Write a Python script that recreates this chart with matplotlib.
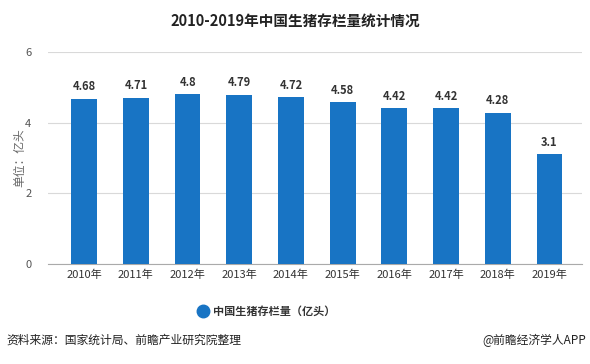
import matplotlib.pyplot as plt
from matplotlib.lines import Line2D

plt.rcParams['font.family'] = ['Noto Sans CJK SC', 'DejaVu Sans']

years = ['2010年', '2011年', '2012年', '2013年', '2014年', '2015年', '2016年', '2017年', '2018年', '2019年']
stock = [4.68, 4.71, 4.8, 4.79, 4.72, 4.58, 4.42, 4.42, 4.28, 3.1]
labels = ['4.68', '4.71', '4.8', '4.79', '4.72', '4.58', '4.42', '4.42', '4.28', '3.1']

BAR_COLOR = '#1874c4'

fig = plt.figure(figsize=(5.9, 3.64), dpi=100)
ax = fig.add_axes([48 / 590, 1 - 264 / 364, 534 / 590, 212 / 364])

x = range(len(years))
ax.bar(x, stock, width=0.5, color=BAR_COLOR, zorder=3)
for xi, v, t in zip(x, stock, labels):
    ax.text(xi, v + 0.15, t, ha='center', va='bottom', fontsize=8, fontweight='bold', color='#333333')

ax.set_ylim(0, 6)
ax.set_xlim(-0.7, 9.63)
ax.set_yticks([0, 2, 4, 6])
ax.set_xticks(list(x))
ax.set_xticklabels(years, fontsize=8, color='#333333')
ax.tick_params(axis='y', labelsize=8, labelcolor='#555555', length=0, pad=12)
ax.tick_params(axis='x', length=0, pad=4)
ax.grid(axis='y', color='#d9d9d9', linewidth=0.8, zorder=0)
for s in ['top', 'right', 'left']:
    ax.spines[s].set_visible(False)
ax.spines['bottom'].set_color('#aaaaaa')
ax.set_ylabel('单位：亿头', fontsize=8.5, color='#666666')
ax.yaxis.set_label_coords(-(48 - 26) / 534, 0.5)

fig.text(0.5, 1 - 22 / 364, '2010-2019年中国生猪存栏量统计情况', ha='center', va='center',
         fontsize=10.5, fontweight='bold', color='#222222')

# legend
fig.add_artist(Line2D([203 / 590], [1 - 311 / 364], transform=fig.transFigure, marker='o',
                      markersize=9, color=BAR_COLOR, linestyle='none'))
fig.text(213 / 590, 1 - 311 / 364, '中国生猪存栏量（亿头）', ha='left', va='center',
         fontsize=8, fontweight='bold', color='#333333')

fig.text(6 / 590, 1 - 340 / 364, '资料来源：国家统计局、前瞻产业研究院整理', ha='left', va='center',
         fontsize=8.5, color='#222222')
fig.text(586 / 590, 1 - 340 / 364, '@前瞻经济学人APP', ha='right', va='center',
         fontsize=8.5, color='#222222')

fig.savefig('out.png', dpi=100)
